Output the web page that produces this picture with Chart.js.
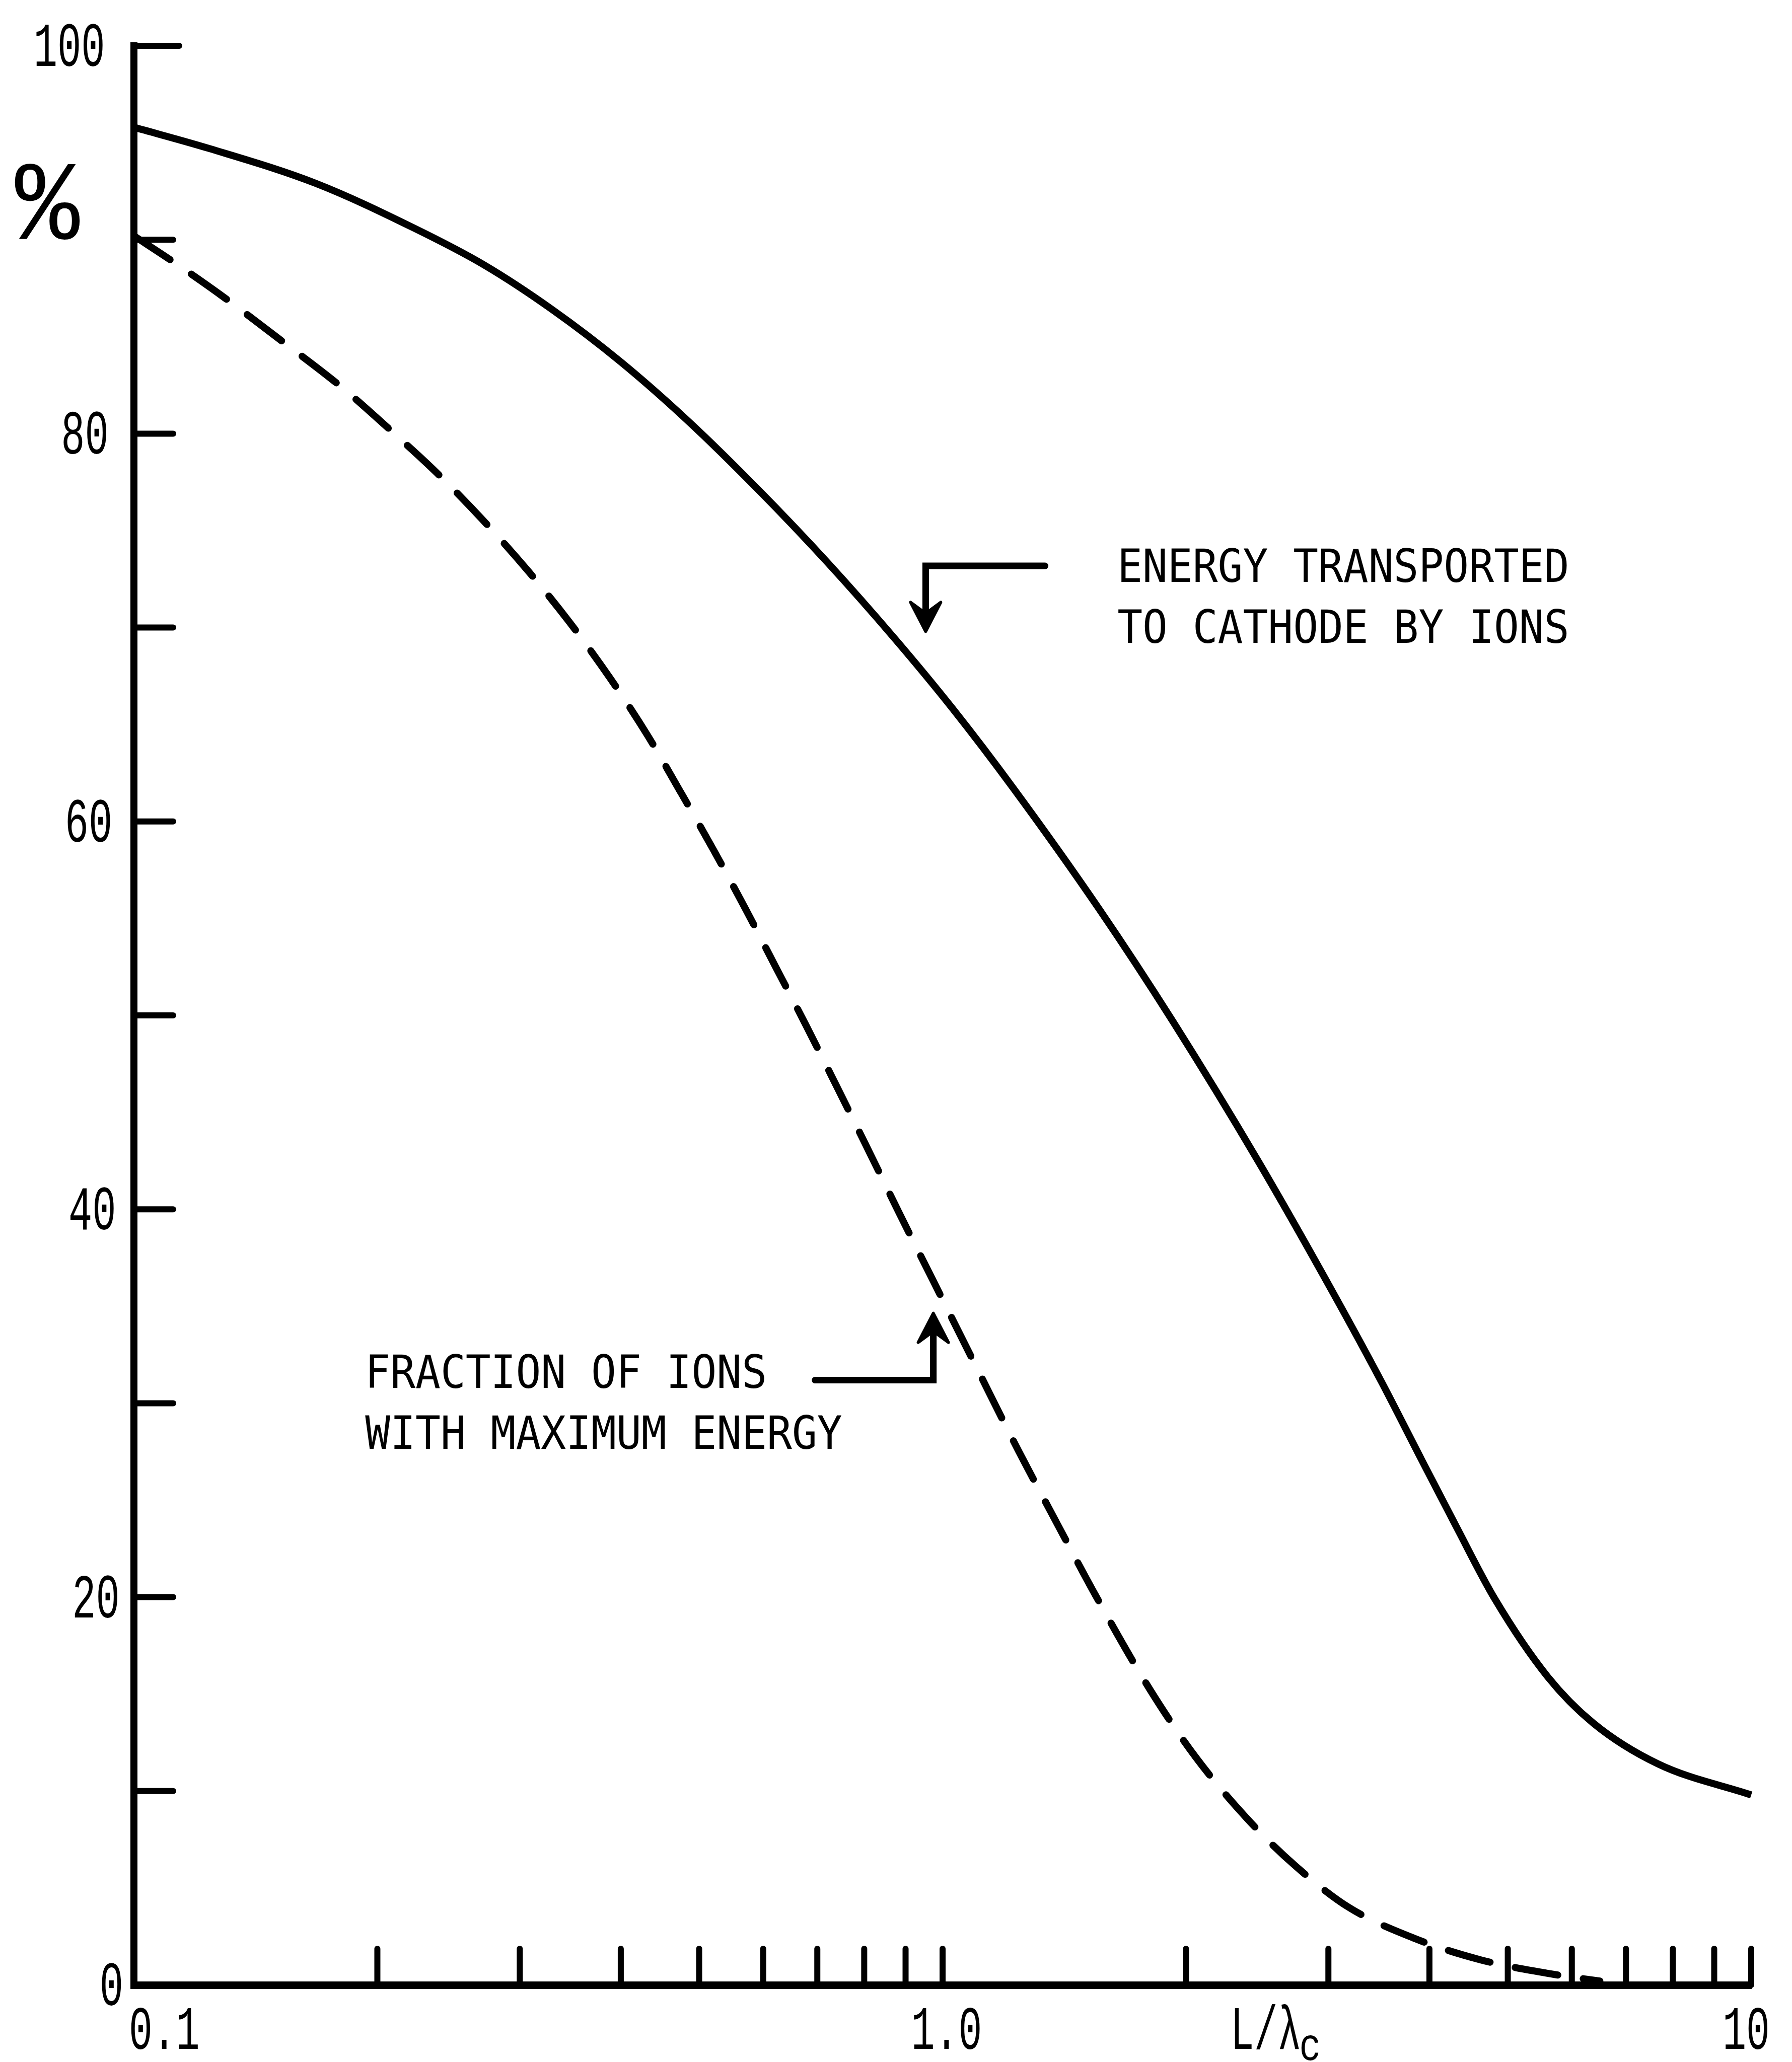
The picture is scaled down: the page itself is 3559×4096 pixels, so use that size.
<!DOCTYPE html>
<html><head><meta charset="utf-8">
<script src="https://cdn.jsdelivr.net/npm/chart.js@4/dist/chart.umd.min.js"></script>
<style>html,body{margin:0;padding:0;background:#fff;}canvas{display:block;}</style>
</head><body>
<canvas id="c" width="3559" height="4096" style="width:3559px;height:4096px"></canvas>
<script>
// ---- data ----
const energyX = [0.1, 0.124, 0.168, 0.222, 0.271, 0.329, 0.400, 0.486, 0.592, 0.719, 0.874, 1.03, 1.224, 1.561, 1.926, 2.455, 3.04, 3.49, 3.91, 4.31, 4.82, 5.60, 6.38, 7.67, 10];
const energyY = [95.8, 94.7, 92.9, 90.6, 88.7, 86.4, 83.7, 80.6, 77.1, 73.4, 69.4, 65.8, 61.7, 55.5, 49.7, 42.5, 35.7, 31.1, 27.1, 23.7, 19.9, 15.9, 13.5, 11.4, 9.8];
const fractionX = [0.1, 0.1115, 0.1295, 0.151, 0.1806, 0.2099, 0.2366, 0.2707, 0.3075, 0.3453, 0.3879, 0.4323, 0.473, 0.5214, 0.5704, 0.6217, 0.6776, 0.7385, 0.8019, 0.884, 0.974, 1.106, 1.243, 1.365, 1.555, 1.807, 2.06, 2.402, 2.738, 3.18, 3.834, 4.624, 5.6, 6.5];
const fractionY = [90.2, 88.9, 87.0, 84.9, 82.4, 80.0, 78.0, 75.5, 72.9, 70.3, 67.4, 64.4, 61.6, 58.5, 55.5, 52.5, 49.5, 46.4, 43.4, 39.8, 36.3, 31.7, 27.5, 24.3, 19.9, 15.2, 11.7, 8.4, 6.1, 4.0, 2.4, 1.3, 0.6, 0.2];
const xTickValues = [0.2, 0.3, 0.4, 0.5, 0.6, 0.7, 0.8, 0.9, 1, 2, 3, 4, 5, 6, 7, 8, 9, 10];
const xLabelValues = [0.1, 1, 10];
const xLabelTexts = ['0.1', '1.0', '10'];
const yTickValues = [0, 10, 20, 30, 40, 50, 60, 70, 80, 90, 100];
const yLabelValues = [0, 20, 40, 60, 80, 100];
const yLabelTexts = ['0', '20', '40', '60', '80', '100'];
const yAxisUnit = '%';
const xAxisTitle = 'L/λ';
const xAxisTitleSub = 'c';
const energyLabel = ['ENERGY TRANSPORTED', 'TO CATHODE BY IONS'];
const fractionLabel = ['FRACTION OF IONS', 'WITH MAXIMUM ENERGY'];

function pts(xs, ys) { return xs.map((x, i) => ({x: x, y: ys[i]})); }

function txt(ctx, s, x, y, size, family, sx, align) {
  ctx.save();
  ctx.font = size + 'px "' + family + '"';
  ctx.textBaseline = 'alphabetic';
  ctx.textAlign = align || 'left';
  ctx.fillStyle = '#000';
  ctx.translate(x, y);
  ctx.scale(sx, 1);
  ctx.fillText(s, 0, 0);
  ctx.restore();
}

function arrowHead(ctx, x, y, dir) { // dir=1 points down, -1 points up
  ctx.save();
  ctx.beginPath();
  ctx.moveTo(x, y);
  ctx.lineTo(x - 30, y - dir * 58);
  ctx.lineTo(x, y - dir * 36);
  ctx.lineTo(x + 30, y - dir * 58);
  ctx.closePath();
  ctx.fillStyle = '#000';
  ctx.strokeStyle = '#000';
  ctx.lineWidth = 6;
  ctx.lineJoin = 'round';
  ctx.fill();
  ctx.stroke();
  ctx.restore();
}

const decor = {
  id: 'decor',
  afterDraw(chart) {
    const ctx = chart.ctx;
    const xs = chart.scales.x, ys = chart.scales.y;
    const ca = chart.chartArea;
    ctx.save();
    ctx.strokeStyle = '#000';
    ctx.lineCap = 'round';
    // inward tick marks on x axis
    ctx.lineWidth = 12;
    xs.ticks.forEach(t => {
      const px = xs.getPixelForValue(t.value);
      ctx.beginPath();
      ctx.moveTo(px, ca.bottom);
      ctx.lineTo(px, ca.bottom - 72);
      ctx.stroke();
    });
    // inward tick marks on y axis
    ys.ticks.forEach(t => {
      if (t.value === 0) return;
      const py = ys.getPixelForValue(t.value);
      ctx.beginPath();
      ctx.moveTo(ca.left, py);
      ctx.lineTo(ca.left + (t.value === 100 ? 90 : 78), py);
      ctx.stroke();
    });
    ctx.restore();

    const F = 'Liberation Mono';
    // y labels
    yLabelValues.forEach((v, i) => {
      const py = ys.getPixelForValue(v);
      const right = ca.left - (14 * v / 100 + 8) * 2.611;
      txt(ctx, yLabelTexts[i], right, py + 40, 125, F, 0.63, 'right');
    });
    // % unit
    txt(ctx, yAxisUnit, 94, 475, 225, F, 0.95, 'center');
    // x labels
    const base = 4070;
    xLabelValues.forEach((v, i) => {
      const px = xs.getPixelForValue(v);
      if (i === 0) txt(ctx, xLabelTexts[i], px - 10, base, 122, F, 0.64, 'left');
      else if (i === xLabelValues.length - 1) txt(ctx, xLabelTexts[i], px - 10, base, 122, F, 0.64, 'center');
      else txt(ctx, xLabelTexts[i], px + 8, base, 122, F, 0.64, 'center');
    });
    // axis title L/λc
    const tx = xs.getPixelForValue(2.27);
    txt(ctx, xAxisTitle, tx, base, 122, F, 0.64, 'left');
    ctx.save();
    ctx.font = '122px "' + F + '"';
    const w = ctx.measureText(xAxisTitle).width * 0.64;
    ctx.restore();
    txt(ctx, xAxisTitleSub, tx + w - 4, base + 22, 90, F, 0.80, 'left');

    // annotations
    const A = 'DejaVu Sans Mono';
    const ax1 = xs.getPixelForValue(1.645);
    txt(ctx, energyLabel[0], ax1, ys.getPixelForValue(72.34), 91, A, 0.91, 'left');
    txt(ctx, energyLabel[1], ax1, ys.getPixelForValue(69.22), 91, A, 0.91, 'left');
    const ax2 = xs.getPixelForValue(0.1932);
    txt(ctx, fractionLabel[0], ax2, ys.getPixelForValue(30.78), 91, A, 0.91, 'left');
    txt(ctx, fractionLabel[1], ax2, ys.getPixelForValue(27.66), 91, A, 0.91, 'left');

    ctx.save();
    ctx.strokeStyle = '#000';
    ctx.lineWidth = 13;
    ctx.lineJoin = 'miter';
    ctx.lineCap = 'round';
    // arrow 1 (pointing down to solid curve)
    const a1x = xs.getPixelForValue(0.953), a1r = xs.getPixelForValue(1.339);
    const a1y = ys.getPixelForValue(73.18), a1t = ys.getPixelForValue(69.8);
    ctx.beginPath();
    ctx.moveTo(a1r, a1y); ctx.lineTo(a1x, a1y); ctx.lineTo(a1x, a1t - 30);
    ctx.stroke();
    arrowHead(ctx, a1x, a1t, 1);
    // arrow 2 (pointing up to dashed curve)
    const a2x = xs.getPixelForValue(0.974), a2l = xs.getPixelForValue(0.6954);
    const a2y = ys.getPixelForValue(31.19), a2t = ys.getPixelForValue(34.64);
    ctx.beginPath();
    ctx.moveTo(a2l, a2y); ctx.lineTo(a2x, a2y); ctx.lineTo(a2x, a2t + 30);
    ctx.stroke();
    arrowHead(ctx, a2x, a2t, -1);
    ctx.restore();
  }
};

new Chart(document.getElementById('c'), {
  type: 'line',
  data: {
    datasets: [
      {label: 'Energy transported to cathode by ions', data: pts(energyX, energyY),
       borderColor: '#000', borderWidth: 14, pointRadius: 0, cubicInterpolationMode: 'monotone', fill: false, clip: false},
      {label: 'Fraction of ions with maximum energy', data: pts(fractionX, fractionY),
       borderColor: '#000', borderWidth: 14, borderDash: [86, 51], borderCapStyle: 'round',
       pointRadius: 0, cubicInterpolationMode: 'monotone', fill: false, clip: false}
    ]
  },
  options: {
    responsive: false,
    devicePixelRatio: 1,
    animation: false,
    layout: {padding: {left: 266, right: 81, top: 91, bottom: 153}},
    plugins: {legend: {display: false}, tooltip: {enabled: false}},
    scales: {
      x: {type: 'logarithmic', min: 0.1, max: 10,
          afterBuildTicks: s => { s.ticks = xTickValues.map(v => ({value: v})); },
          ticks: {display: false}, grid: {display: false, drawTicks: false},
          border: {display: true, color: '#000', width: 15}},
      y: {type: 'linear', min: 0, max: 100,
          afterBuildTicks: s => { s.ticks = yTickValues.map(v => ({value: v})); },
          ticks: {display: false}, grid: {display: false, drawTicks: false},
          border: {display: true, color: '#000', width: 14}}
    }
  },
  plugins: [decor]
});
</script>
</body></html>
